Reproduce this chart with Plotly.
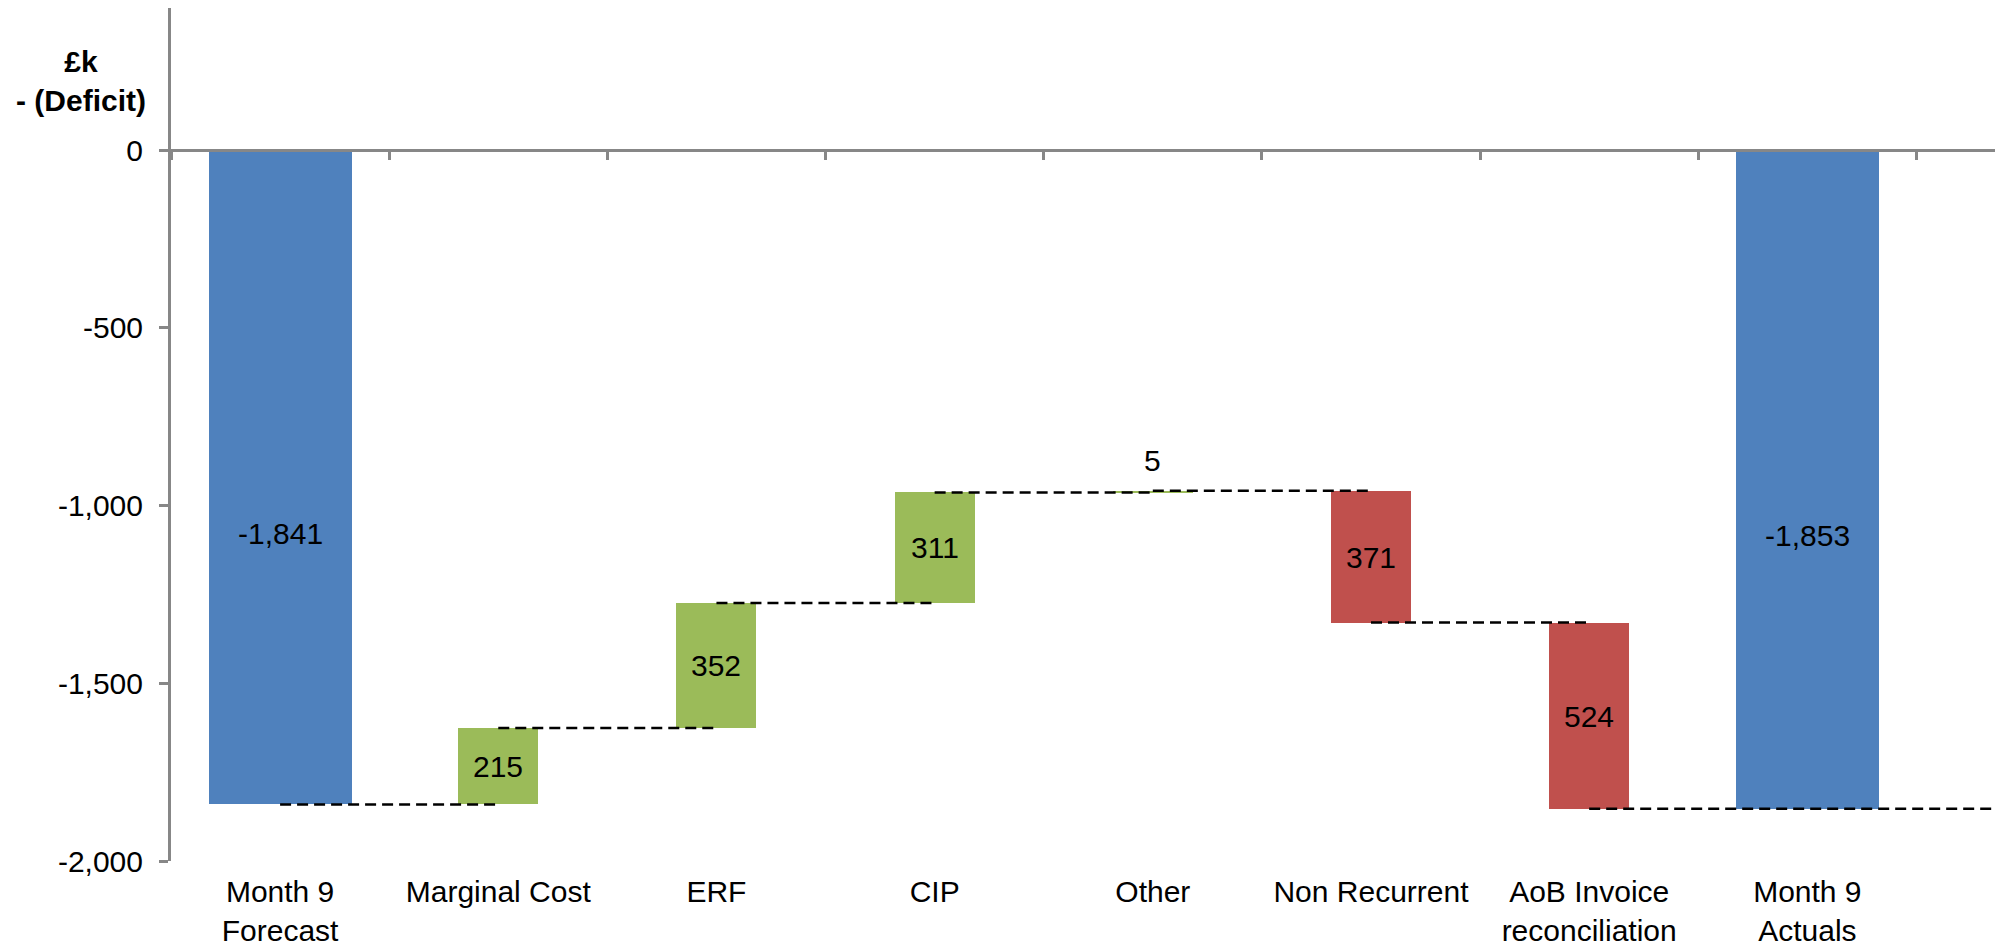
import plotly.graph_objects as go

# Waterfall data (£k)
categories = ["Month 9<br>Forecast", "Marginal Cost", "ERF", "CIP", "Other",
              "Non Recurrent", "AoB Invoice<br>reconciliation", "Month 9<br>Actuals"]
forecast = -1841
changes = [215, 352, 311, 5, -371, -524]
actuals = -1853
y_ticks = [0, -500, -1000, -1500, -2000]
y_ticktext = [f"{v:,}" for v in y_ticks]

BLUE, GREEN, RED = "#4F81BD", "#9BBB59", "#C0504D"
AXIS_GREY = "#878787"
FONT = "Liberation Sans, Arial, sans-serif"
FS = 30
Y_MIN, Y_MAX = -2000, 400
X_END = 7.86          # right end of the category axis (in category units)
WIDE, NARROW = 0.656, 0.367

# running totals before/after each step
levels = [forecast]
for c in changes:
    levels.append(levels[-1] + c)

step_cats = categories[1:-1]
step_base = levels[:-1]

fig = go.Figure()

# total bars
fig.add_trace(go.Bar(
    x=[categories[0], categories[-1]], y=[forecast, actuals], base=[0, 0],
    width=[WIDE, WIDE], marker=dict(color=BLUE, line=dict(width=0)),
    hoverinfo="skip", showlegend=False))

# step bars
fig.add_trace(go.Bar(
    x=step_cats, y=changes, base=step_base,
    width=[NARROW] * len(changes),
    marker=dict(color=[GREEN if c > 0 else RED for c in changes], line=dict(width=0)),
    text=[f"{abs(c):,}" if abs(c) >= 100 else "" for c in changes],
    textposition="inside", insidetextanchor="middle", textangle=0,
    constraintext="none",
    textfont=dict(family=FONT, size=FS, color="black"),
    hoverinfo="skip", showlegend=False))

# dashed connectors between consecutive category centres
dash_line = dict(color="black", width=2.5, dash="11px,6px")
for i, lvl in enumerate(levels[:-1]):
    fig.add_trace(go.Scatter(
        x=[categories[i], categories[i + 1]], y=[lvl, lvl], xaxis="x2",
        mode="lines", line=dash_line, hoverinfo="skip", showlegend=False))
# final level carried across to the end of the axis
fig.add_shape(type="line", xref="x2", yref="y",
              x0=len(categories) - 2, x1=X_END, y0=levels[-1], y1=levels[-1],
              line=dash_line)

# value labels for the totals
for cat, val in [(categories[0], forecast), (categories[-1], actuals)]:
    fig.add_annotation(x=cat, y=val / 2, text=f"{val:,}", showarrow=False,
                       yshift=-56, font=dict(family=FONT, size=FS, color="black"))

# label for the small "Other" step, placed above its bar
small = [i for i, c in enumerate(changes) if abs(c) < 100]
for i in small:
    fig.add_annotation(x=step_cats[i], y=levels[i + 1], text=f"{changes[i]:,}",
                       showarrow=False, yanchor="bottom", yshift=12,
                       font=dict(family=FONT, size=FS, color="black"))

# axis title
fig.add_annotation(xref="paper", yref="paper", x=-0.0495, y=0.915,
                   xanchor="center", yanchor="middle",
                   text="<b>£k<br>- (Deficit)</b>", showarrow=False, align="center",
                   font=dict(family=FONT, size=FS, color="black"))

fig.update_layout(
    width=1995, height=946,
    margin=dict(l=171, r=0, t=8, b=85, autoexpand=False),
    paper_bgcolor="white", plot_bgcolor="white",
    barmode="overlay", bargap=0,
    font=dict(family=FONT, size=FS, color="black"),
    xaxis=dict(type="category", categoryorder="array", categoryarray=categories,
               range=[-0.5, X_END], showline=False, showgrid=False, zeroline=False,
               ticks="", ticklabelstandoff=10, automargin=False,
               tickfont=dict(family=FONT, size=FS, color="black")),
    xaxis2=dict(type="category", categoryorder="array", categoryarray=categories,
                overlaying="x", anchor="free",
                position=(0 - Y_MIN) / (Y_MAX - Y_MIN),
                range=[-0.5, X_END], showline=True, linecolor=AXIS_GREY, linewidth=3,
                ticks="outside", tickson="boundaries", ticklen=8, tickwidth=3,
                tickcolor=AXIS_GREY, showticklabels=False, showgrid=False,
                zeroline=False),
    yaxis=dict(range=[Y_MIN, Y_MAX], tickvals=y_ticks, ticktext=y_ticktext,
               showline=True, linecolor=AXIS_GREY, linewidth=3,
               ticks="outside", ticklen=9, tickwidth=3, tickcolor=AXIS_GREY,
               ticklabelstandoff=10, showgrid=False, zeroline=False,
               automargin=False,
               tickfont=dict(family=FONT, size=FS, color="black")),
)

fig.write_html("out.html")
